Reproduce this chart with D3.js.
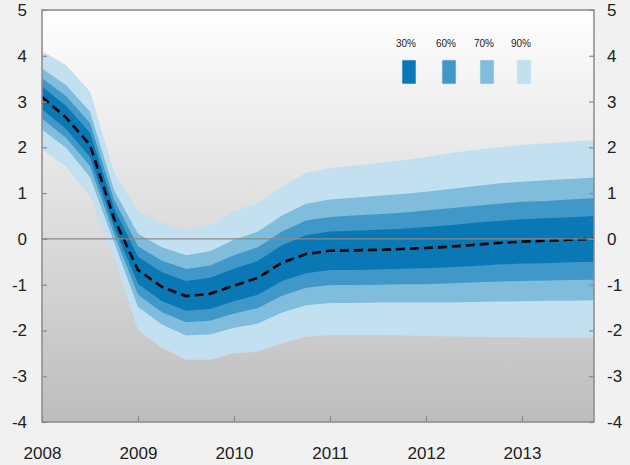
<!DOCTYPE html>
<html>
<head>
<meta charset="utf-8">
<script src="https://cdn.jsdelivr.net/npm/d3@7"></script>
<style>
  body { margin: 0; background: #f1f1f1; }
  svg { display: block; }
  text { font-family: "Liberation Sans", Arial, sans-serif; fill: #222; }
</style>
</head>
<body>
<div id="chart"></div>
<script>
// quarters 2008Q1 .. 2013Q4, plotted at start of quarter
var quarters = [2008, 2008.25, 2008.5, 2008.75, 2009, 2009.25, 2009.5, 2009.75,
                2010, 2010.25, 2010.5, 2010.75, 2011, 2011.25, 2011.5, 2011.75,
                2012, 2012.25, 2012.5, 2012.75, 2013, 2013.25, 2013.5, 2013.75];

// central projection (dashed)
var central = [3.10, 2.65, 2.05, 0.45, -0.68, -1.05, -1.25, -1.20, -1.02, -0.85, -0.52, -0.33,
               -0.26, -0.25, -0.24, -0.22, -0.20, -0.17, -0.13, -0.09, -0.06, -0.04, -0.02, 0.00];

// band bounds
var hi90 = [4.10, 3.80, 3.22, 1.45, 0.60, 0.35, 0.18, 0.30, 0.60, 0.78, 1.14, 1.44,
            1.55, 1.60, 1.66, 1.71, 1.79, 1.87, 1.94, 2.00, 2.05, 2.09, 2.12, 2.16];
var lo90 = [1.95, 1.58, 0.92, -0.39, -1.99, -2.38, -2.64, -2.64, -2.50, -2.46, -2.28, -2.14,
            -2.10, -2.10, -2.10, -2.11, -2.12, -2.13, -2.14, -2.15, -2.15, -2.16, -2.16, -2.16];
var hi70 = [3.72, 3.36, 2.78, 1.07, 0.11, -0.18, -0.36, -0.27, -0.02, 0.16, 0.51, 0.77,
            0.86, 0.90, 0.94, 0.98, 1.03, 1.09, 1.15, 1.21, 1.25, 1.28, 1.31, 1.34];
var lo70 = [2.39, 1.99, 1.35, -0.07, -1.49, -1.87, -2.11, -2.09, -1.94, -1.85, -1.61, -1.45,
            -1.40, -1.40, -1.39, -1.39, -1.39, -1.39, -1.38, -1.37, -1.36, -1.35, -1.35, -1.34];
var hi60 = [3.51, 3.12, 2.53, 0.86, -0.16, -0.48, -0.66, -0.58, -0.36, -0.18, 0.16, 0.40,
            0.48, 0.51, 0.54, 0.57, 0.62, 0.67, 0.72, 0.77, 0.81, 0.83, 0.86, 0.89];
var lo60 = [2.63, 2.21, 1.59, 0.11, -1.22, -1.60, -1.82, -1.79, -1.63, -1.51, -1.24, -1.07,
            -1.01, -1.01, -1.00, -0.99, -0.99, -0.97, -0.95, -0.93, -0.92, -0.91, -0.90, -0.89];
var hi30 = [3.33, 2.91, 2.32, 0.68, -0.39, -0.73, -0.92, -0.85, -0.65, -0.48, -0.14, 0.08,
            0.16, 0.18, 0.20, 0.22, 0.26, 0.30, 0.35, 0.39, 0.43, 0.45, 0.47, 0.50];
var lo30 = [2.84, 2.40, 1.79, 0.26, -0.98, -1.36, -1.57, -1.53, -1.36, -1.22, -0.92, -0.75,
            -0.68, -0.68, -0.67, -0.65, -0.64, -0.62, -0.59, -0.56, -0.54, -0.53, -0.51, -0.50];

var bandNames = ["90%", "70%", "60%", "30%"];
var bandColors = ["#c2e0f0", "#80bcdc", "#4098c8", "#0a78b4"];
var yearTicks = [2008, 2009, 2010, 2011, 2012, 2013];
var valueTicks = [-4, -3, -2, -1, 0, 1, 2, 3, 4, 5];

function drawChart() {
  var width = 630, height = 465;
  var pLeft = 42, pRight = 594, pTop = 10, pBottom = 422;

  var svg = d3.select("#chart").append("svg")
    .attr("width", width)
    .attr("height", height);

  var x = d3.scaleLinear().domain([2008, 2013.75]).range([pLeft, pRight]);
  var y = d3.scaleLinear().domain([-4, 5]).range([pBottom, pTop]);

  var defs = svg.append("defs");
  var grad = defs.append("linearGradient")
    .attr("id", "plotbg").attr("x1", 0).attr("y1", 0).attr("x2", 0).attr("y2", 1);
  grad.append("stop").attr("offset", "0%").attr("stop-color", "#ffffff");
  grad.append("stop").attr("offset", "100%").attr("stop-color", "#bdbdbd");

  defs.append("clipPath").attr("id", "clip")
    .append("rect")
    .attr("x", pLeft).attr("y", pTop)
    .attr("width", pRight - pLeft).attr("height", pBottom - pTop);

  svg.append("rect")
    .attr("x", pLeft).attr("y", pTop)
    .attr("width", pRight - pLeft).attr("height", pBottom - pTop)
    .attr("fill", "url(#plotbg)");

  var plot = svg.append("g").attr("clip-path", "url(#clip)");

  var bands = [[hi90, lo90], [hi70, lo70], [hi60, lo60], [hi30, lo30]];

  var area = d3.area()
    .x(function(d) { return x(d.t); })
    .y0(function(d) { return y(d.lo); })
    .y1(function(d) { return y(d.hi); });

  bands.forEach(function(b, k) {
    var pts = quarters.map(function(t, i) {
      return {t: t, hi: b[0][i], lo: b[1][i]};
    });
    plot.append("path")
      .datum(pts)
      .attr("d", area)
      .attr("fill", bandColors[k]);
  });

  // zero line
  svg.append("line")
    .attr("x1", pLeft).attr("x2", pRight)
    .attr("y1", y(0)).attr("y2", y(0))
    .attr("stroke", "#8a8a8a")
    .attr("stroke-width", 1.2);

  var line = d3.line()
    .x(function(d, i) { return x(quarters[i]); })
    .y(function(d) { return y(d); });

  plot.append("path")
    .datum(central)
    .attr("d", line)
    .attr("fill", "none")
    .attr("stroke", "#000")
    .attr("stroke-width", 2.6)
    .attr("stroke-dasharray", "9,5");

  // plain hyphen for negatives, like the original
  var fmt = function(d) { return String(d); };

  // axes
  var yLeft = d3.axisLeft(y).tickValues(valueTicks).tickFormat(fmt)
    .tickSizeInner(-5).tickSizeOuter(0).tickPadding(15);
  var yRight = d3.axisRight(y).tickValues(valueTicks).tickFormat(fmt)
    .tickSizeInner(-5).tickSizeOuter(0).tickPadding(13);
  var xAxis = d3.axisBottom(x).tickValues(yearTicks).tickFormat(fmt)
    .tickSizeInner(-6).tickSizeOuter(0).tickPadding(25);

  function style(g) {
    g.select(".domain").remove();
    g.selectAll(".tick line").attr("stroke", "#8a8a8a").attr("stroke-width", 1.2);
    g.selectAll(".tick text").attr("font-size", 17).attr("fill", "#2a2a2a")
      .attr("font-family", "'Liberation Sans', Arial, sans-serif");
  }

  svg.append("g").attr("transform", "translate(" + pLeft + ",0)").call(yLeft).call(style);
  svg.append("g").attr("transform", "translate(" + pRight + ",0)").call(yRight).call(style);
  svg.append("g").attr("transform", "translate(0," + pBottom + ")").call(xAxis).call(style);

  // plot border
  svg.append("rect")
    .attr("x", pLeft).attr("y", pTop)
    .attr("width", pRight - pLeft).attr("height", pBottom - pTop)
    .attr("fill", "none")
    .attr("stroke", "#8a8a8a")
    .attr("stroke-width", 1.5);

  // legend
  var legendOrder = [3, 2, 1, 0];
  var legendX = [409, 449, 487, 524];
  legendOrder.forEach(function(k, j) {
    svg.append("rect")
      .attr("x", legendX[j] - 7).attr("y", 60)
      .attr("width", 14).attr("height", 24)
      .attr("fill", bandColors[k])
      .attr("stroke", "#d8ecf6")
      .attr("stroke-width", 0.6);
    svg.append("text")
      .attr("x", legendX[j] - 3).attr("y", 47)
      .attr("text-anchor", "middle")
      .attr("font-size", 10)
      .attr("fill", "#333")
      .text(bandNames[k]);
  });
}

drawChart();
</script>
</body>
</html>
